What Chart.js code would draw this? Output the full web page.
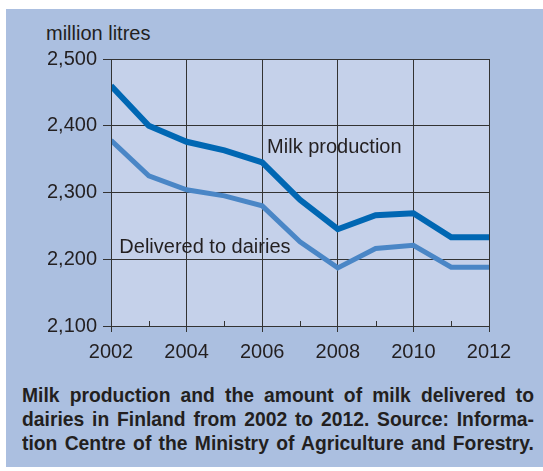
<!DOCTYPE html>
<html>
<head>
<meta charset="utf-8">
<script src="https://cdn.jsdelivr.net/npm/chart.js@4/dist/chart.umd.min.js"></script>
<style>
  html, body { margin: 0; padding: 0; background: #fff; }
  body { width: 543px; height: 471px; position: relative; overflow: hidden; }
  #panel { position: absolute; left: 6px; top: 9px; width: 537px; height: 458px; background: #abbfe0; }
  #unit { position: absolute; left: 46px; top: 23px; font: 20px "Liberation Sans", Arial, sans-serif; line-height: 20px; color: #231f20; }
  #wrap { position: absolute; left: 0; top: 0; width: 543px; height: 380px; }
  #caption { position: absolute; left: 22px; top: 383px; font: bold 21px "Liberation Sans", Arial, sans-serif; line-height: 24px; color: #231f20; transform-origin: 0 0; }
  #caption div { text-align: justify; text-align-last: justify; white-space: nowrap; }
  #caption span { white-space: nowrap; }
</style>
</head>
<body>
<div id="panel"></div>
<div id="unit">million litres</div>
<div id="wrap"><canvas id="milkChart" width="543" height="380"></canvas></div>
<div id="caption">
  <div><span>Milk production and the amount of milk delivered to</span></div>
  <div><span>dairies in Finland from 2002 to 2012. Source: Informa-</span></div>
  <div><span>tion Centre of the Ministry of Agriculture and Forestry.</span></div>
</div>
<script>
const years = [2002, 2003, 2004, 2005, 2006, 2007, 2008, 2009, 2010, 2011, 2012]
const milkProduction = [2460, 2400, 2376, 2363, 2345, 2289, 2245, 2266, 2269, 2233, 2233]
const deliveredToDairies = [2378, 2325, 2304, 2295, 2280, 2226, 2187, 2216, 2221, 2188, 2188]
const yTicks = [2100, 2200, 2300, 2400, 2500]
const xLabelYears = [2002, 2004, 2006, 2008, 2010, 2012]

const FONT = '"Liberation Sans", Arial, sans-serif'
const INK = "#231f20"
const GRID = "#333333"

// squeeze the caption into a condensed, justified block 512px wide
function fitCaption() {
  const box = document.getElementById("caption")
  const spans = [...box.querySelectorAll("span")]
  const widest = Math.max(...spans.map((s) => s.getBoundingClientRect().width))
  const k = (512 / widest) * 0.97
  spans.forEach((s) => { s.parentNode.textContent = s.textContent })
  box.style.width = 512 / k + "px"
  box.style.transform = "scaleX(" + k + ")"
}
fitCaption()

// plot background, frame, short inner ticks on odd years and series labels
const frame = {
  id: "frame",
  beforeDraw(chart) {
    const { ctx, chartArea: a } = chart
    ctx.save()
    ctx.fillStyle = "#c5d1ea"
    ctx.fillRect(a.left, a.top, a.right - a.left, a.bottom - a.top)
    ctx.restore()
  },
  afterDatasetsDraw(chart) {
    const { ctx, chartArea: a, scales } = chart
    ctx.save()
    ctx.strokeStyle = GRID
    ctx.lineWidth = 1
    ctx.strokeRect(a.left + 0.5, a.top + 0.5, a.right - a.left, a.bottom - a.top)
    years.filter((y) => !xLabelYears.includes(y)).forEach((y) => {
      const x = Math.round(scales.x.getPixelForValue(y)) + 0.5
      ctx.beginPath()
      ctx.moveTo(x, a.bottom)
      ctx.lineTo(x, a.bottom - 5)
      ctx.stroke()
    })
    ctx.fillStyle = INK
    ctx.font = "20px " + FONT
    ctx.textBaseline = "alphabetic"
    ctx.fillText("Milk production", scales.x.getPixelForValue(2006.13), scales.y.getPixelForValue(2359))
    ctx.fillText("Delivered to dairies", scales.x.getPixelForValue(2002.22), scales.y.getPixelForValue(2210))
    ctx.restore()
  },
}

const isMajor = (v) => xLabelYears.includes(v)

new Chart(document.getElementById("milkChart").getContext("2d"), {
  type: "line",
  data: {
    labels: years,
    datasets: [
      {
        label: "Milk production",
        data: years.map((y, i) => ({ x: y, y: milkProduction[i] })),
        borderColor: "#0067b3",
        borderWidth: 6,
        pointRadius: 0,
        tension: 0,
      },
      {
        label: "Delivered to dairies",
        data: years.map((y, i) => ({ x: y, y: deliveredToDairies[i] })),
        borderColor: "#4a86c6",
        borderWidth: 5,
        pointRadius: 0,
        tension: 0,
      },
    ],
  },
  options: {
    responsive: false,
    animation: false,
    layout: { padding: { left: 0, right: 54, top: 59, bottom: 0 } },
    plugins: { legend: { display: false }, tooltip: { enabled: false } },
    scales: {
      x: {
        type: "linear",
        min: 2002,
        max: 2012,
        afterFit: (s) => { s.height = 54 },
        afterBuildTicks: (s) => { s.ticks = years.map((v) => ({ value: v })) },
        ticks: {
          autoSkip: false,
          maxRotation: 0,
          padding: 8,
          color: INK,
          font: { family: FONT, size: 20 },
          callback: (v) => (isMajor(v) ? String(v) : ""),
        },
        grid: {
          color: (c) => (c.tick && isMajor(c.tick.value) ? GRID : "rgba(0,0,0,0)"),
          tickColor: (c) => (c.tick && isMajor(c.tick.value) ? GRID : "rgba(0,0,0,0)"),
          tickLength: 6,
          lineWidth: 1,
        },
        border: { color: GRID, width: 1 },
      },
      y: {
        min: 2100,
        max: 2500,
        afterFit: (s) => { s.width = 111 },
        afterBuildTicks: (s) => { s.ticks = yTicks.map((v) => ({ value: v })) },
        ticks: {
          padding: 6,
          color: INK,
          font: { family: FONT, size: 20 },
          callback: (v) => v.toLocaleString("en-US"),
        },
        grid: { color: GRID, tickColor: GRID, tickLength: 8, lineWidth: 1 },
        border: { color: GRID, width: 1 },
      },
    },
  },
  plugins: [frame],
})
</script>
</body>
</html>
